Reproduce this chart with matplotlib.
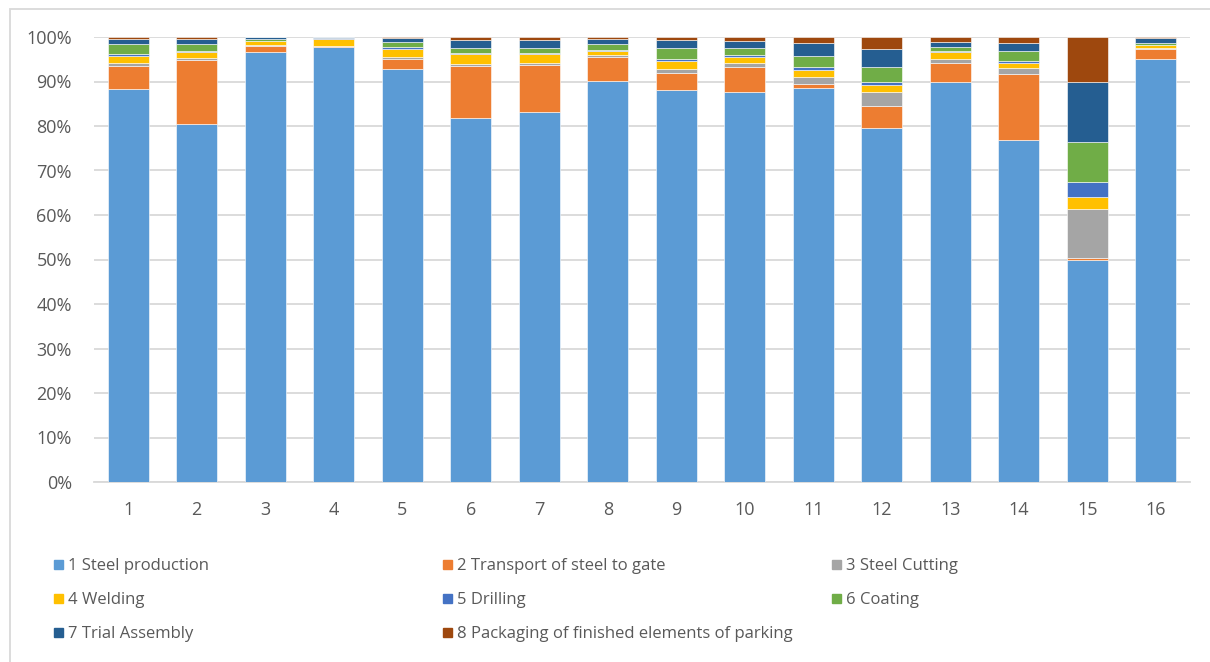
import matplotlib
matplotlib.use("Agg")
import numpy as np
import matplotlib.pyplot as plt
from matplotlib.patches import Rectangle
from matplotlib.ticker import PercentFormatter

# share of each process step per element (%), bottom to top of stack
elements = list(range(1, 17))
steel_production = [88.2, 80.4, 96.7, 97.7, 92.8, 81.9, 83.1, 90.0, 88.0, 87.5, 88.6, 79.5, 89.8, 76.9, 50.0, 95.0]
transport        = [5.2, 14.5, 1.3, 0.2, 2.25, 11.6, 10.5, 5.3, 4.0, 5.8, 0.8, 5.1, 4.2, 14.7, 0.3, 2.3]
steel_cutting    = [0.6, 0.45, 0.2, 0.1, 0.45, 0.5, 0.6, 0.45, 0.9, 0.8, 1.65, 3.0, 0.9, 1.5, 11.1, 0.2]
welding          = [1.7, 1.3, 0.9, 1.6, 1.8, 2.2, 2.0, 1.05, 1.7, 1.35, 1.6, 1.6, 1.7, 1.1, 2.6, 0.75]
drilling         = [0.3, 0.2, 0.1, 0.1, 0.5, 0.15, 0.1, 0.2, 0.45, 0.45, 0.6, 0.8, 0.3, 0.45, 3.4, 0.1]
coating          = [2.3, 1.6, 0.45, 0.15, 1.0, 1.3, 1.3, 1.35, 2.55, 1.65, 2.5, 3.3, 0.9, 2.2, 9.0, 0.3]
trial_assembly   = [1.1, 1.1, 0.3, 0.1, 0.9, 1.65, 1.65, 1.1, 1.65, 1.4, 2.85, 4.0, 1.1, 1.9, 13.4, 1.1]
packaging        = [0.5, 0.45, 0.1, 0.05, 0.3, 0.75, 0.75, 0.45, 0.75, 1.0, 1.4, 2.75, 1.05, 1.25, 10.2, 0.3]

series = [
    ("1 Steel production", steel_production, "#5B9BD5"),
    ("2 Transport of steel to gate", transport, "#ED7D31"),
    ("3 Steel Cutting", steel_cutting, "#A5A5A5"),
    ("4 Welding", welding, "#FFC000"),
    ("5 Drilling", drilling, "#4472C4"),
    ("6 Coating", coating, "#70AD47"),
    ("7 Trial Assembly", trial_assembly, "#255E91"),
    ("8 Packaging of finished elements of parking", packaging, "#9E480E"),
]

W, H = 1210, 662
fig = plt.figure(figsize=(W / 100, H / 100), dpi=100)
ax = fig.add_axes([94 / W, 1 - 482 / H, (1190 - 94) / W, (482 - 37) / H])

# normalise each column to 100%
vals = np.array([s[1] for s in series], dtype=float)
vals = vals / vals.sum(axis=0)

bottom = np.zeros(len(elements))
for (name, _, color), v in zip(series, vals):
    ax.bar(elements, v, 0.6, bottom=bottom, color=color, edgecolor="white",
           linewidth=0.4, zorder=3, label=name)
    bottom += v

ax.set_xlim(0.5, 16.5)
ax.set_ylim(0, 1)
ax.set_yticks(np.arange(0, 1.01, 0.1))
ax.yaxis.set_major_formatter(PercentFormatter(1.0, decimals=0))
ax.set_xticks(elements)
ax.grid(axis="y", color="#D9D9D9", lw=1.3, zorder=0)
for side in ("top", "right", "left"):
    ax.spines[side].set_visible(False)
ax.spines["bottom"].set_color("#D9D9D9")
ax.spines["bottom"].set_linewidth(1.3)
ax.tick_params(length=0, labelsize=13, labelcolor="#595959")
ax.tick_params(axis="y", pad=16)
ax.tick_params(axis="x", pad=14)
for lab in ax.get_xticklabels() + ax.get_yticklabels():
    lab.set_family("Open Sans")

# legend laid out in three columns, row by row
col_x = [54, 443, 832]
row_y = [564, 598, 632]
for i, (name, _, color) in enumerate(series):
    px, py = col_x[i % 3], row_y[i // 3]
    fig.add_artist(Rectangle((px / W, 1 - (py + 5) / H), 9 / W, 9 / H,
                             transform=fig.transFigure, color=color))
    fig.text((px + 14) / W, 1 - (py + 2) / H, name, fontsize=12, color="#595959",
             family="Open Sans", va="center", ha="left")

# chart frame
fig.add_artist(Rectangle((9.5 / W, -0.5), 2, 1.5 - 8.5 / H, transform=fig.transFigure,
                         fill=False, edgecolor="#D9D9D9", lw=1.3))

fig.savefig("out.png", dpi=100, facecolor="white")
